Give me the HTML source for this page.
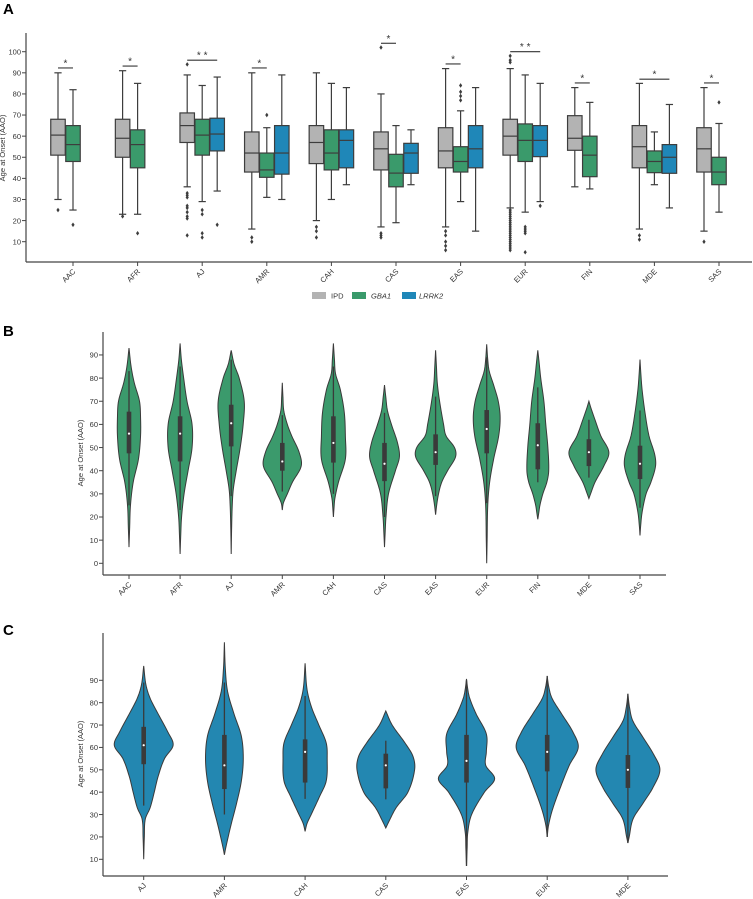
<!DOCTYPE html>
<html><head><meta charset="utf-8">
<style>
body{margin:0;background:#fff;}
svg{display:block;font-family:"Liberation Sans",sans-serif;}
.tk{font-size:7.5px;fill:#333;}
</style></head>
<body>
<svg id="fig" width="753" height="899" viewBox="0 0 753 899">
<text x="3" y="14" font-size="15" font-weight="bold">A</text>
<text x="3" y="336" font-size="15" font-weight="bold">B</text>
<text x="3" y="635" font-size="15" font-weight="bold">C</text>
<g id="pa"></g>
<g id="pb"></g>
<g id="pc"></g>
</svg>
<script>
// ---------- Panel A data ----------
const catsA = ["AAC","AFR","AJ","AMR","CAH","CAS","EAS","EUR","FIN","MDE","SAS"];
const hues = ["IPD","GBA1","LRRK2"];
const ticksA = [10,20,30,40,50,60,70,80,90,100];
// [q1, median, q3, whiskerLow, whiskerHigh]
const ipdBox = [[51,60.5,68,30,90],[50,59,68,23,91],[57,65,71,36,89],[43,52,62,16,90],[47,57,65,20,90],[44,54,62,17,80],[45,53,64,17,92],[51,60,68,26,92],[53.3,59,69.7,36,83],[45,55,65,16,85],[43,54,64,15,83]];
const gbaBox = [[48,56,65,25,82],[45,56,63,23,85],[51,60.5,68,29,84],[40.5,44,52,31,64],[44,52,63,30,85],[36,42.5,51.4,19,65],[43,48,55,29,72],[48,58,65.8,24,89],[40.8,51,60,35,76],[42.7,48,53,37,62],[37,43,50,24,66]];
const lrrkBox = [null,null,[53,61,68.5,34,88],[42,52,65,30,89],[45,58,63,37,83],[42.4,52,56.6,37,63],[45,54,65,15,83],[50.3,58,65,29,85],null,[42.4,50,56,26,75],null];
const ipdOut = [[25],[22],[94,33,32,31,27,26,24,22,21,13],[12,10],[17,15,12],[102,14,13,12],[15,13,10,8,6],[98,96,95,25,24,23,22,21,20,19,18,17,16,15,14,13,12,11,10,9,8,7,6],[],[13,11],[10]];
const gbaOut = [[18],[14],[25,23,14,12],[70],[],[],[84,81,79,77],[17,16,15,14,5],[],[],[76]];
const lrrkOut = [[],[],[18],[],[],[],[],[27],[],[],[]];
// [category index, from hue, to hue, level, label]
const sigCat = [0,1,2,3,5,6,7,8,9,10];
const sigTo = [1,1,2,1,1,1,2,1,2,1];
const sigLevel = [92.3,93.2,96,92.3,104,94.2,100,85.2,87,85.2];
const sigLabel = ["*","*","* *","*","*","*","* *","*","*","*"];

// ---------- Panel B data ----------
const catsB = ["AAC","AFR","AJ","AMR","CAH","CAS","EAS","EUR","FIN","MDE","SAS"];
const ticksB = [0,10,20,30,40,50,60,70,80,90];
const boxB = [[47.5,56,65.5,25,83],[44,56,63.5,23,85],[50.5,60.5,68.5,29,88],[40,44,52,31,64],[43.5,52,63.5,30,85],[35.5,43,52,20,65],[42.5,48,55.7,29,72],[47.5,58,66.2,26,89],[40.6,51,60.5,35,76],[42,48,53.6,37,62],[36.4,43,50.8,24,66]];
const densB = [
 [[7,0],[15,.03],[25,.07],[35,.2],[45,.45],[55,.55],[63,.55],[70,.5],[78,.25],[85,.1],[93,0]],
 [[4,0],[12,.03],[20,.07],[30,.19],[40,.38],[50,.57],[60,.57],[70,.33],[80,.17],[88,.06],[95,0]],
 [[4,0],[15,.02],[25,.05],[32,.1],[40,.24],[50,.43],[60,.57],[70,.62],[80,.38],[86,.14],[92,0]],
 [[23,0],[26,.05],[30,.24],[35,.48],[42,.9],[48,.8],[55,.45],[60,.24],[66,.07],[72,.03],[78,0]],
 [[20,0],[24,.03],[28,.07],[35,.24],[45,.57],[55,.57],[65,.52],[75,.33],[82,.1],[88,.05],[95,0]],
 [[7,0],[13,.03],[20,.07],[30,.19],[40,.52],[46,.71],[52,.62],[60,.33],[66,.14],[72,.06],[77,0]],
 [[21,0],[25,.05],[30,.14],[35,.29],[40,.57],[46,.95],[50,.9],[55,.5],[60,.38],[70,.19],[78,.08],[85,.04],[92,0]],
 [[0,0],[10,.02],[25,.05],[35,.14],[45,.33],[55,.57],[63,.64],[70,.55],[77,.33],[83,.12],[88,.05],[94.6,0]],
 [[19,0],[22,.05],[25,.1],[30,.24],[35,.43],[40,.52],[50,.48],[60,.38],[70,.29],[80,.14],[87,.06],[92,0]],
 [[28,0],[30,.08],[35,.29],[42,.71],[48,.95],[55,.57],[62,.29],[67,.1],[70,0]],
 [[12,0],[16,.03],[22,.1],[30,.29],[35,.52],[42,.74],[47,.7],[55,.43],[65,.24],[75,.1],[82,.04],[88,0]]
];

// ---------- Panel C data ----------
const catsC = ["AJ","AMR","CAH","CAS","EAS","EUR","MDE"];
const ticksC = [10,20,30,40,50,60,70,80,90];
const boxC = [[52.5,61,69.2,34,89],[41.4,52,65.6,30,89],[44.3,58,63.6,37,83],[41.7,52,57.2,36.8,63],[44.3,54,65.6,7,90],[49.3,58,65.6,20,92],[41.9,50,56.6,17.3,84]];
const densC = [
 [[10,0],[20,.02],[28,.05],[33,.2],[40,.33],[47,.45],[55,.65],[61,.92],[67,.75],[75,.45],[82,.2],[88,.07],[96.4,0]],
 [[12,0],[15,.04],[25,.2],[35,.38],[45,.53],[55,.59],[65,.53],[75,.3],[85,.1],[95,.03],[107,0]],
 [[22.5,0],[26,.06],[30,.19],[38,.45],[45,.66],[55,.69],[62,.66],[70,.43],[78,.2],[86,.06],[97.6,0]],
 [[24,0],[27,.1],[33,.32],[40,.69],[50,.9],[56,.85],[62,.6],[70,.2],[76.3,0]],
 [[7,0],[15,.02],[22,.04],[30,.16],[40,.56],[46,.88],[52,.6],[58,.62],[66,.62],[75,.3],[82,.1],[86,.04],[90.6,0]],
 [[20,0],[25,.04],[32,.16],[42,.41],[52,.69],[60,.97],[67,.8],[75,.45],[82,.15],[87,.05],[91.8,0]],
 [[17.3,0],[20,.04],[28,.16],[35,.47],[42,.78],[50,1.0],[57,.8],[65,.45],[72,.15],[78,.05],[83.9,0]]
];

const NS="http://www.w3.org/2000/svg";
function mk(tag,parent,attrs){const e=document.createElementNS(NS,tag);for(const k in attrs)e.setAttribute(k,attrs[k]);parent.appendChild(e);return e;}
const EDGE="#3d3d3d";

function axes(g,x0,x1,yTop,yBot,ticks,yS,tickName,cats,xS,titleX,titleY){
  const ya=mk('line',g,{x1:x0,y1:yTop,x2:x0,y2:yBot,stroke:'#444','stroke-width':1.2});
  
  const xa=mk('line',g,{x1:x0,y1:yBot,x2:x1,y2:yBot,stroke:'#444','stroke-width':1.2});
  
  ticks.forEach(t=>{const y=yS(t);
    mk('line',g,{x1:x0-4,y1:y,x2:x0,y2:y,stroke:'#444','stroke-width':1});
    const tx=mk('text',g,{x:x0-5,y:y+2.7,'text-anchor':'end',class:'tk'});tx.textContent=t;
    });
  cats.forEach((c,i)=>{const x=xS(i);
    mk('line',g,{x1:x,y1:yBot,x2:x,y2:yBot+4,stroke:'#444','stroke-width':1});
    const tx=mk('text',g,{x:x+3,y:yBot+10,'text-anchor':'end',class:'tk',transform:`rotate(-45 ${x+3} ${yBot+10})`});tx.textContent=c;
    });
  const tt=mk('text',g,{x:titleX,y:titleY,'text-anchor':'middle','font-size':7.5,fill:'#333',transform:`rotate(-90 ${titleX} ${titleY})`});
  tt.textContent="Age at Onset (AAO)";
  
}

// ---------- Panel A ----------
(function(){
  const g=document.getElementById('pa');
  const yS=v=>241.7-(v-10)*2.111;
  const xC=i=>73+i*64.6;
  const off=[-15,0,15];
  const cols=["#b3b3b3","#3a9a6b","#1f87b8"];
  axes(g,26,752,33,262,ticksA,yS,'',catsA,xC,5,148);
  const boxes=[ipdBox,gbaBox,lrrkBox], outs=[ipdOut,gbaOut,lrrkOut];
  catsA.forEach((c,i)=>{
    for(let h=0;h<3;h++){
      const b=boxes[h][i]; if(!b) continue;
      const cx=xC(i)+off[h], w=14.5;
      mk('line',g,{x1:cx,y1:yS(b[2]),x2:cx,y2:yS(b[4]),stroke:EDGE,'stroke-width':1.2});
      mk('line',g,{x1:cx,y1:yS(b[0]),x2:cx,y2:yS(b[3]),stroke:EDGE,'stroke-width':1.2});
      mk('line',g,{x1:cx-w/4,y1:yS(b[4]),x2:cx+w/4,y2:yS(b[4]),stroke:EDGE,'stroke-width':1.2});
      mk('line',g,{x1:cx-w/4,y1:yS(b[3]),x2:cx+w/4,y2:yS(b[3]),stroke:EDGE,'stroke-width':1.2});
      const r=mk('rect',g,{x:cx-w/2,y:yS(b[2]),width:w,height:yS(b[0])-yS(b[2]),fill:cols[h],stroke:EDGE,'stroke-width':1.2});
      
      
      mk('line',g,{x1:cx-w/2,y1:yS(b[1]),x2:cx+w/2,y2:yS(b[1]),stroke:EDGE,'stroke-width':1.2});
      outs[h][i].forEach(v=>{const y=yS(v);
        const d=mk('path',g,{d:`M${cx},${y-2.3}L${cx+1.6},${y}L${cx},${y+2.3}L${cx-1.6},${y}Z`,fill:'#3d3d3d'});
        });
    }
  });
  sigCat.forEach((ci,k)=>{
    const xa=xC(ci)+off[0], xb=xC(ci)+off[sigTo[k]], y=yS(sigLevel[k]);
    const l=mk('line',g,{x1:xa,y1:y,x2:xb,y2:y,stroke:'#333','stroke-width':1.1});
    
    const t=mk('text',g,{x:(xa+xb)/2,y:y-1.5,'text-anchor':'middle','font-size':10,fill:'#333'});t.textContent=sigLabel[k];
    
  });
  const lx=[312,352,402], tx=[331,371,419];
  hues.forEach((h,k)=>{
    const r=mk('rect',g,{x:lx[k],y:292,width:14,height:7,fill:cols[k]});
    
    const t=mk('text',g,{x:tx[k],y:298.5,'font-size':7.5,fill:'#333','font-style':k?'italic':'normal'});t.textContent=h;
    
  });
})();

// ---------- Violin helper ----------
function interp(knots,v){
  if(v<=knots[0][0]||v>=knots[knots.length-1][0]) return 0;
  let i=0; while(knots[i+1][0]<v) i++;
  const p0=knots[Math.max(i-1,0)],p1=knots[i],p2=knots[i+1],p3=knots[Math.min(i+2,knots.length-1)];
  const t=(v-p1[0])/(p2[0]-p1[0]);
  const m1=(p2[1]-p0[1])/((p2[0]-p0[0])||1)*(p2[0]-p1[0]);
  const m2=(p3[1]-p1[1])/((p3[0]-p1[0])||1)*(p2[0]-p1[0]);
  const t2=t*t,t3=t2*t;
  const y=(2*t3-3*t2+1)*p1[1]+(t3-2*t2+t)*m1+(-2*t3+3*t2)*p2[1]+(t3-t2)*m2;
  return Math.max(y,0);
}
function violins(g,cats,dens,boxes,xC,yS,W,fill,prefix){
  cats.forEach((c,i)=>{
    const kn=dens[i], lo=kn[0][0], hi=kn[kn.length-1][0], cx=xC(i);
    const L=[],R=[];
    for(let s=0;s<=120;s++){const v=lo+(hi-lo)*s/120;const w=interp(kn,v)*W;
      R.push(`${(cx+w).toFixed(2)},${yS(v).toFixed(2)}`);L.push(`${(cx-w).toFixed(2)},${yS(v).toFixed(2)}`);}
    const p=mk('path',g,{d:'M'+R.join('L')+'L'+L.reverse().join('L')+'Z',fill:fill,stroke:'#3a3a3a','stroke-width':1});
    
    
    const b=boxes[i];
    mk('line',g,{x1:cx,y1:yS(b[3]),x2:cx,y2:yS(b[4]),stroke:'#3a3a3a','stroke-width':1.3});
    mk('rect',g,{x:cx-2.3,y:yS(b[2]),width:4.6,height:yS(b[0])-yS(b[2]),fill:'#3a3a3a'});
    mk('circle',g,{cx:cx,cy:yS(b[1]),r:1.1,fill:'#fff'});
  });
}

// ---------- Panel B ----------
(function(){
  const g=document.getElementById('pb');
  const yS=v=>563.3-v*2.315;
  const xC=i=>129+i*51.1;
  axes(g,103,666,332,575,ticksB,yS,'',catsB,xC,83,453);
  violins(g,catsB,densB,boxB,xC,yS,21,'#3b9a6c','gba1');
})();

// ---------- Panel C ----------
(function(){
  const g=document.getElementById('pc');
  const yS=v=>859.3-(v-10)*2.2375;
  const xC=i=>143.7+i*80.7;
  axes(g,103,668,633,876,ticksC,yS,'',catsC,xC,83,754);
  violins(g,catsC,densC,boxC,xC,yS,32,'#2387b1','lrrk2');
})();
</script>
</body></html>
